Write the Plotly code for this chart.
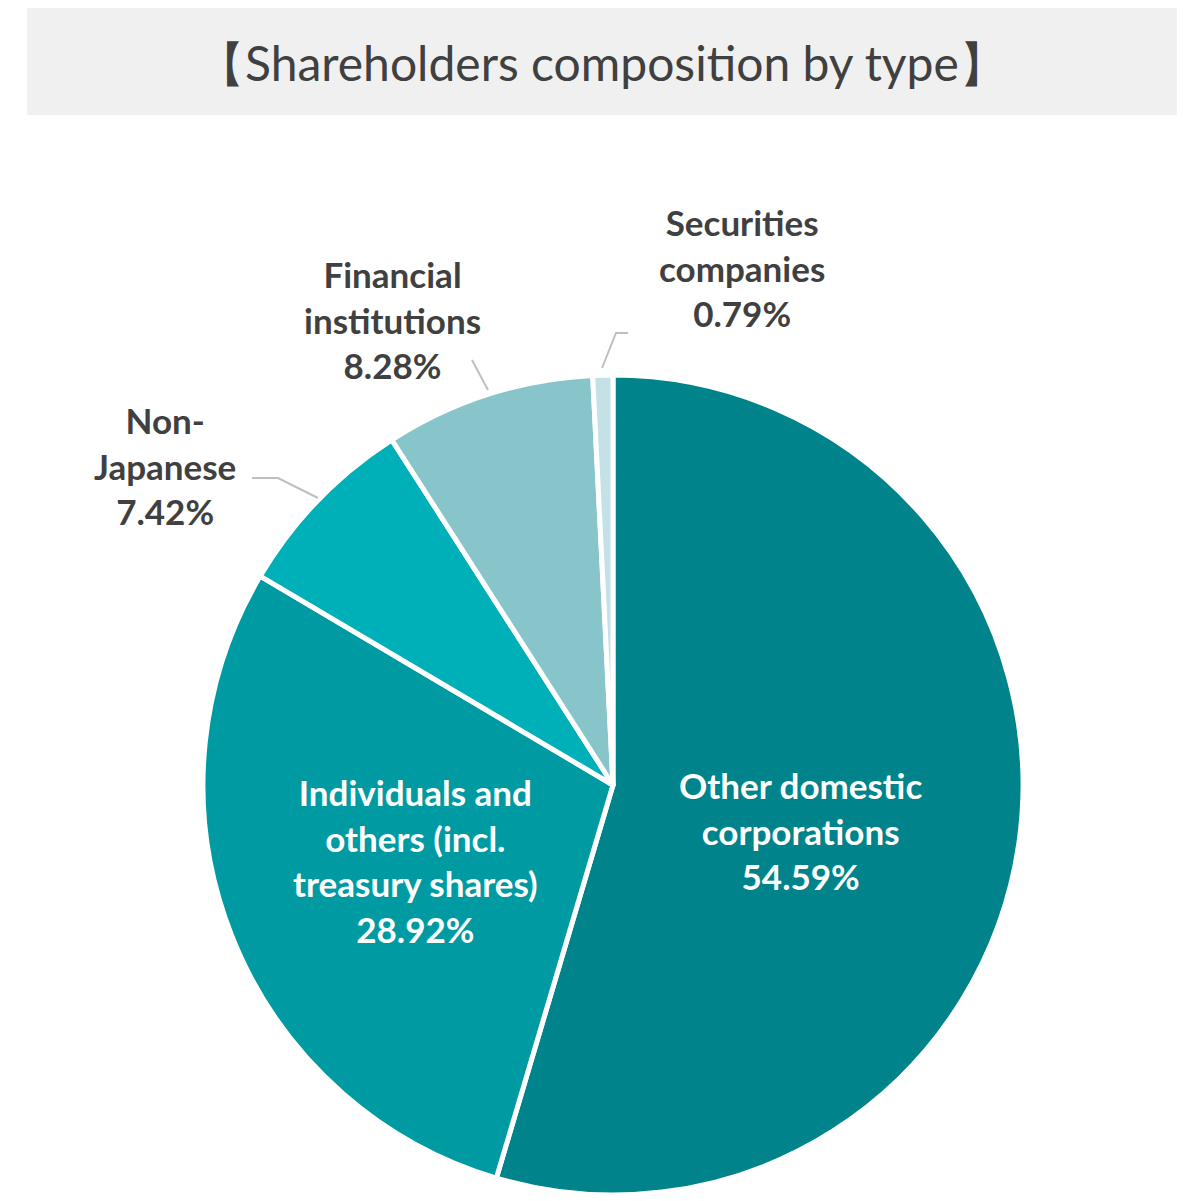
import plotly.graph_objects as go

labels = ["Other domestic corporations", "Individuals and others (incl. treasury shares)",
          "Non-Japanese", "Financial institutions", "Securities companies"]
display = ["Other domestic<br>corporations", "Individuals and<br>others (incl.<br>treasury shares)",
           "Non-<br>Japanese", "Financial<br>institutions", "Securities<br>companies"]
values = [54.59, 28.92, 7.42, 8.28, 0.79]
colors = ["#00838A", "#009BA2", "#00B0B8", "#88C5CB", "#C4E2E5"]

# page has an 8px body margin, so the figure is a bit smaller and shifted
OFF = 8
W, H = 1204 - OFF, 1201 - OFF


def fx(x):
    return (x - OFF) / W


def fy(y):
    return 1 - (y - OFF) / H


fig = go.Figure(go.Pie(
    labels=labels, values=values, sort=False, direction="clockwise", rotation=0,
    marker=dict(colors=colors, line=dict(color="white", width=5)),
    textinfo="none", hoverinfo="label+percent", showlegend=False,
    domain=dict(x=[fx(203), fx(1023)], y=[fy(1195), fy(375)]),
))

# label positions (px) and text colours
pos = [(800, 830), (415, 860), (165, 465), (392, 320), (742, 267)]
tcol = ["white", "white", "#404040", "#404040", "#404040"]
for d, v, (x, y), c in zip(display, values, pos, tcol):
    fig.add_annotation(x=fx(x), y=fy(y), xref="paper", yref="paper",
                       xanchor="center", yanchor="middle",
                       text=f"<b>{d}<br>{v:.2f}%</b>", showarrow=False,
                       font=dict(family="Lato", size=35, color=c), align="center")

# leader lines
leaders = [[(252, 478), (278, 478), (318, 498)],
           [(472, 360), (488, 390)],
           [(628, 333), (616, 333), (602, 368)]]
for pts in leaders:
    path = "M " + " L ".join(f"{fx(x)},{fy(y)}" for x, y in pts)
    fig.add_shape(type="path", path=path, xref="paper", yref="paper",
                  line=dict(color="#BFBFBF", width=2))

# title box
fig.add_shape(type="rect", x0=fx(27), x1=fx(1177), y0=fy(115), y1=fy(5),
              xref="paper", yref="paper", fillcolor="#F0F0F0", line_width=0, layer="below")
fig.add_annotation(x=fx(602), y=fy(62), xref="paper", yref="paper", showarrow=False,
                   xanchor="center", yanchor="middle",
                   text="【Shareholders composition by type】",
                   font=dict(family="Lato", size=48, color="#404040"))

fig.update_layout(width=W, height=H, margin=dict(l=0, r=0, t=0, b=0),
                  paper_bgcolor="white", plot_bgcolor="white")
fig.write_html("out.html")
